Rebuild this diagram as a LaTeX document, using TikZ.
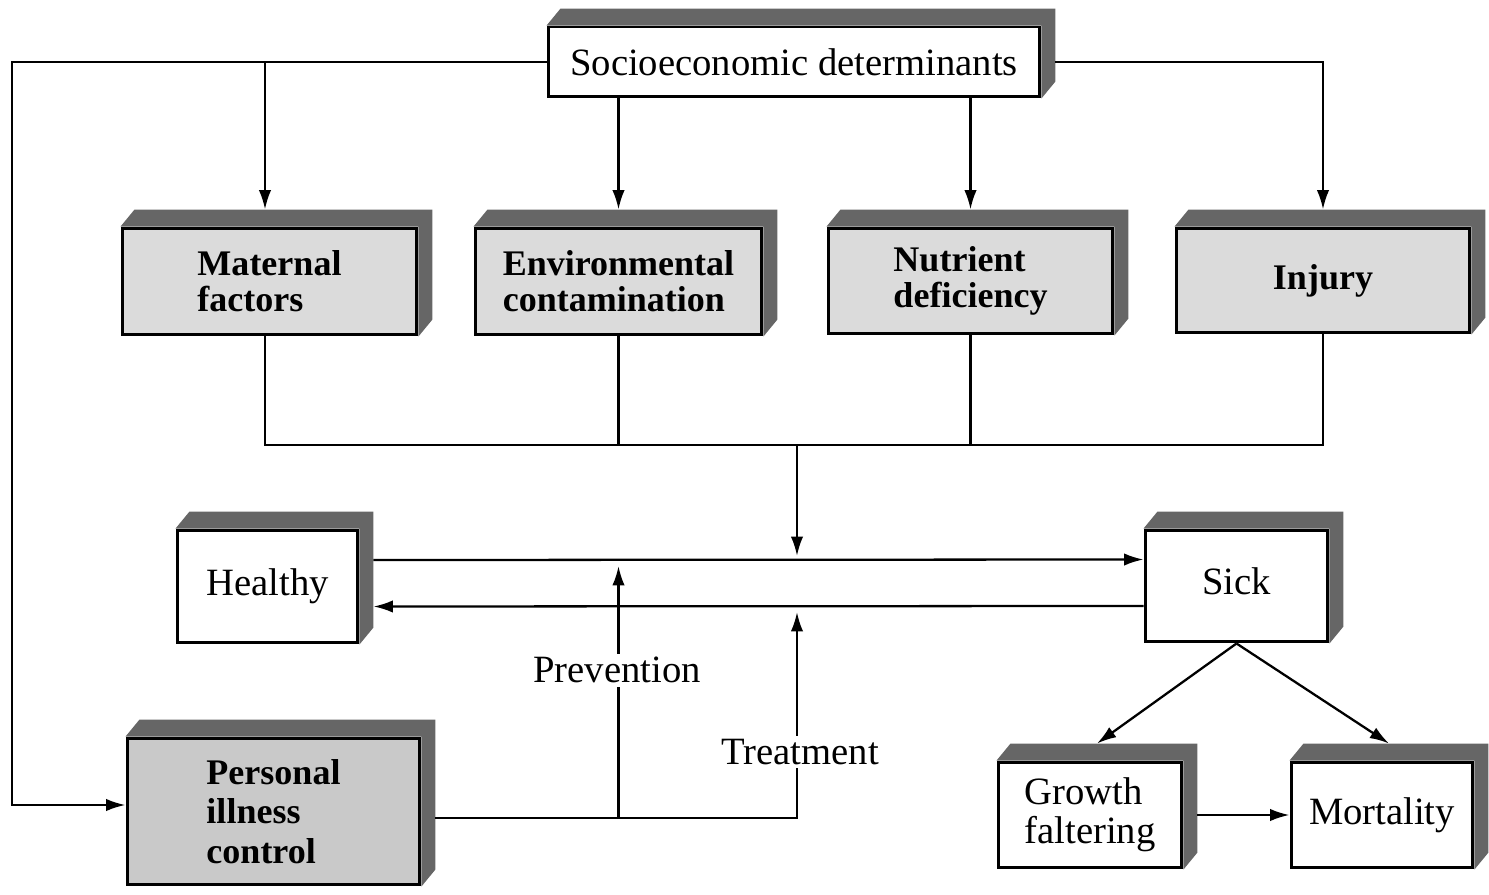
\documentclass[tikz,border=0pt]{standalone}
\usepackage{fontspec}
\setmainfont{Liberation Serif}
\usetikzlibrary{arrows.meta,backgrounds}
\begin{document}
\begin{tikzpicture}[x=0.02cm, y=-0.02cm,
                   box/.style={draw, line width=1.7pt, fill=white, align=left, inner sep=0pt,
                               font=\fontsize{22}{22}\selectfont},
                   graybox/.style={box, fill=gray!28, font=\fontsize{20.5}{20.5}\selectfont\bfseries},
                   side/.style={fill=black!60},
                   line/.style={line width=1.3pt},
                   arr/.style={line, -{Latex[length=11pt,width=7pt]}}]
	\useasboundingbox (0,0) rectangle (1489,895);
	\node[box, minimum width=9.84cm, minimum height=1.40cm] (socio) at (794,62) {Socioeconomic determinants};
	\node[graybox, minimum width=5.90cm, minimum height=2.14cm] (maternal) at (269.5,281.5) {Maternal\\factors};
	\node[graybox, minimum width=5.74cm, minimum height=2.14cm] (env) at (618.5,281.5) {Environmental\\contamination};
	\node[graybox, minimum width=5.70cm, minimum height=2.12cm] (nutrient) at (970.5,281) {Nutrient\\deficiency};
	\node[graybox, minimum width=5.88cm, minimum height=2.10cm] (injury) at (1323,280.5) {Injury};
	\node[box, minimum width=3.62cm, minimum height=2.26cm] (healthy) at (267.5,586.5) {Healthy};
	\node[box, minimum width=3.66cm, minimum height=2.24cm] (sick) at (1236.5,586) {\raisebox{6pt}{Sick}};
	\node[graybox, fill=gray!42, minimum width=5.86cm, minimum height=2.94cm,
	      font=\fontsize{20.5}{22.5}\selectfont\bfseries] (personal) at (273.5,811.5) {Personal\\illness\\control};
	\node[box, minimum width=3.68cm, minimum height=2.12cm] (growth) at (1090,815) {Growth\\faltering};
	\node[box, minimum width=3.64cm, minimum height=2.12cm] (mortality) at (1382,815) {Mortality};
	\begin{scope}[on background layer]
	\foreach \n in {socio,maternal,env,nutrient,injury,healthy,sick,personal,growth,mortality}
		\fill[side] (\n.north west) -- ++(14,-17) -| ([shift={(14,-17)}]\n.south east) -- (\n.south east) -- (\n.north east) -- cycle;
	\end{scope}
	\coordinate (left) at (12,62);
	\coordinate (join) at (797,445);
	\coordinate (matx) at ([xshift=-0.09cm]maternal.north);
	\coordinate (pe) at ([xshift=0.28cm,yshift=-0.13cm]personal.east);
	\draw[arr] (socio.west) -- (left) |- ([yshift=0.13cm]personal.west);
	\draw[arr] (matx |- socio.west) -- ([yshift=0.34cm]matx);
	\draw[arr] (env.north |- socio.south) -- ([yshift=0.34cm]env.north);
	\draw[arr] (nutrient.north |- socio.south) -- ([yshift=0.34cm]nutrient.north);
	\draw[arr] ([xshift=0.28cm]socio.east) -| ([yshift=0.34cm]injury.north);
	\draw[line] (matx |- maternal.south) -- (matx |- join) -- (injury.south |- join) -- (injury.south);
	\draw[line] (env.south) -- (env.south |- join);
	\draw[line] (nutrient.south) -- (nutrient.south |- join);
	\draw[arr] (join) -- ++(0,111);
	\draw[arr] ([xshift=0.28cm,yshift=0.53cm]healthy.east) -- ([yshift=0.53cm]sick.west);
	\draw[arr] ([yshift=-0.4cm]sick.west) -- ([xshift=0.28cm,yshift=-0.4cm]healthy.east);
	\draw[arr] (pe) -| (join |- 0,612);
	\draw[arr] (pe -| env.north) -- (env.north |- 0,566);
	\node[fill=white, inner sep=2pt, font=\fontsize{22}{22}\selectfont] (prevention) at (617,670) {Prevention};
	\node[fill=white, inner sep=2pt, font=\fontsize{22}{22}\selectfont] (treatment) at (800,752) {Treatment};
	\draw[arr] (sick.south) -- ([xshift=0.14cm,yshift=0.34cm]growth.north);
	\draw[arr] (sick.south) -- ([xshift=0.14cm,yshift=0.34cm]mortality.north);
	\draw[arr] ([xshift=0.28cm]growth.east) -- (mortality.west);
\end{tikzpicture}
\end{document}
